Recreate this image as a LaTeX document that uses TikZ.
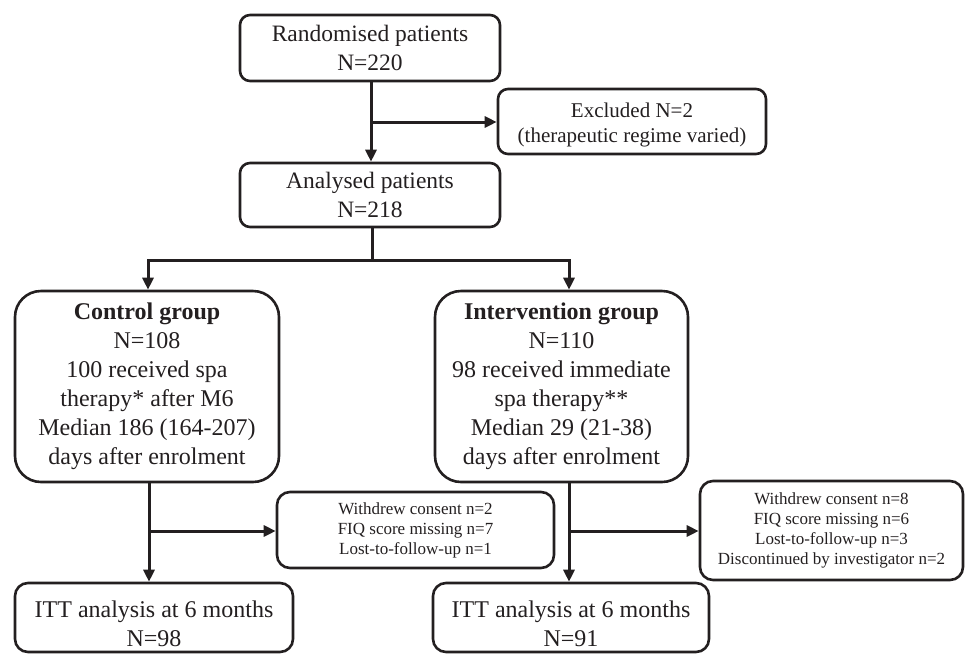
\documentclass[tikz,border=0pt]{standalone}
\usepackage{fontspec}
\setmainfont{Liberation Serif}
\usetikzlibrary{arrows.meta}
\definecolor{ink}{HTML}{231F20}
\begin{document}
\begin{tikzpicture}[x=1pt,y=-1pt,
  box/.style={draw=ink, text=ink, line width=2.6pt, rounded corners=10pt, align=center,
    inner sep=0pt, font=\fontsize{23.5}{29}\selectfont},
  bigbox/.style={box, rounded corners=26pt, font=\fontsize{24}{29}\selectfont},
  smallbox/.style={box, rounded corners=13pt, font=\fontsize{17}{20}\selectfont},
  exbox/.style={box, font=\fontsize{21}{25}\selectfont},
  conn/.style={draw=ink, line width=3pt},
  arr/.style={conn, -{Triangle[length=12pt,width=11pt]}}]
\useasboundingbox (0,0) rectangle (965,654);

\node[box, minimum width=260pt, minimum height=66pt] (rand) at (370,48) {Randomised patients\\N=220};
\node[exbox, minimum width=268pt, minimum height=65pt] (excl) at (632,121.5) {\rule{0pt}{21pt}Excluded N=2\\(therapeutic regime varied)};
\node[box, minimum width=260pt, minimum height=64pt] (anal) at (370,195) {Analysed patients\\N=218};

\node[bigbox, minimum width=264pt, minimum height=191pt] (ctrl) at (147,386.5)
  {\textbf{Control group}\\N=108\\100 received spa\\therapy* after M6\\Median 186 (164-207)\\days after enrolment};
\node[bigbox, minimum width=253pt, minimum height=191pt] (intv) at (561.5,386.5)
  {\textbf{Intervention group}\\N=110\\98 received immediate\\spa therapy**\\Median 29 (21-38)\\days after enrolment};

\node[smallbox, minimum width=277pt, minimum height=76pt] (wd1) at (415.5,530)
  {Withdrew consent n=2\\FIQ score missing n=7\\Lost-to-follow-up n=1};
\node[smallbox, minimum width=263pt, minimum height=99pt] (wd2) at (831.5,530.5)
  {Withdrew consent n=8\\FIQ score missing n=6\\Lost-to-follow-up n=3\\Discontinued by investigator n=2};

\node[box, rounded corners=13pt, font=\fontsize{24}{29}\selectfont, minimum width=278pt, minimum height=69pt] (itt1) at (154,617.5)
  {\rule{0pt}{30pt}ITT analysis at 6 months\\N=98};
\node[box, rounded corners=13pt, font=\fontsize{24}{29}\selectfont, minimum width=276pt, minimum height=69pt] (itt2) at (571,617.5)
  {\rule{0pt}{30pt}ITT analysis at 6 months\\N=91};

% connectors
\coordinate (b1) at (371,122);
\draw[arr] (rand.south -| b1) -- (anal.north -| b1);
\draw[arr] (b1) -- (excl.west |- b1);

\coordinate (b2) at (372,260);
\coordinate (cl) at (148,260);
\coordinate (cr) at (569,260);
\draw[conn] (anal.south -| b2) -- (b2);
\draw[arr] (b2) -- (cl) -- (ctrl.north -| cl);
\draw[arr] (b2) -- (cr) -- (intv.north -| cr);

\coordinate (b3) at (149,531);
\draw[arr] (ctrl.south -| b3) -- (itt1.north -| b3);
\draw[arr] (b3) -- (wd1.west |- b3);

\coordinate (b4) at (569,531);
\draw[arr] (intv.south -| b4) -- (itt2.north -| b4);
\draw[arr] (b4) -- (wd2.west |- b4);
\end{tikzpicture}
\end{document}
